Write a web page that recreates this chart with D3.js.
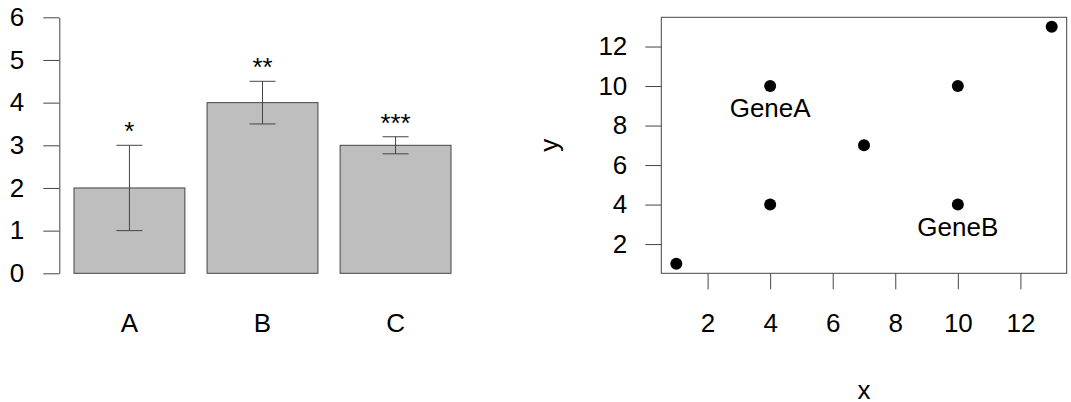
<!DOCTYPE html>
<html>
<head>
<meta charset="utf-8">
<script src="https://cdn.jsdelivr.net/npm/d3@7"></script>
<style>
  body { margin: 0; background: #fff; }
  text { font-family: "Liberation Sans", Arial, sans-serif; fill: #000; }
</style>
</head>
<body>
<div id="chart"></div>
<script>
// bar panel data
var groups = ["A", "B", "C"];
var means = [2, 4, 3];
var lower = [1, 3.5, 2.8];
var upper = [3, 4.5, 3.2];
var stars = ["*", "**", "***"];
var barTicks = [0, 1, 2, 3, 4, 5, 6];

// scatter panel data
var xs = [1, 4, 4, 7, 10, 10, 13];
var ys = [1, 4, 10, 7, 10, 4, 13];
var labelNames = ["GeneA", "GeneB"];
var labelX = [4, 10];
var labelY = [10, 4];
var scatterTicks = [2, 4, 6, 8, 10, 12];

var width = 1071, height = 402;
var fontSize = 26;
var lineCol = "#444";

var svg = d3.select("#chart")
  .append("svg")
  .attr("width", width)
  .attr("height", height)
  .style("font-size", fontSize + "px");

svg.append("rect").attr("width", width).attr("height", height).attr("fill", "#fff");

// ---- left: barplot ----
var plotTop = 17.3, plotBottom = 273.3;

var yBar = d3.scaleLinear().domain([0, 6]).range([plotBottom, plotTop]);
var xBar = d3.scaleBand()
  .domain(groups)
  .range([62.9, 462.1])
  .paddingInner(1 / 6)
  .paddingOuter(1 / 12);

var left = svg.append("g");

left.selectAll("rect.bar")
  .data(groups)
  .enter()
  .append("rect")
  .attr("class", "bar")
  .attr("x", function(d) { return xBar(d); })
  .attr("width", xBar.bandwidth())
  .attr("y", function(d, i) { return yBar(means[i]); })
  .attr("height", function(d, i) { return yBar(0) - yBar(means[i]); })
  .attr("fill", "#bebebe")
  .attr("stroke", lineCol)
  .attr("stroke-width", 1);

// error bars
var capHalf = 13;
var err = left.selectAll("g.err")
  .data(groups)
  .enter()
  .append("g")
  .attr("class", "err")
  .attr("stroke", lineCol)
  .attr("stroke-width", 1);

err.append("line")
  .attr("x1", function(d) { return xBar(d) + xBar.bandwidth() / 2; })
  .attr("x2", function(d) { return xBar(d) + xBar.bandwidth() / 2; })
  .attr("y1", function(d, i) { return yBar(lower[i]); })
  .attr("y2", function(d, i) { return yBar(upper[i]); });
err.append("line")
  .attr("x1", function(d) { return xBar(d) + xBar.bandwidth() / 2 - capHalf; })
  .attr("x2", function(d) { return xBar(d) + xBar.bandwidth() / 2 + capHalf; })
  .attr("y1", function(d, i) { return yBar(upper[i]); })
  .attr("y2", function(d, i) { return yBar(upper[i]); });
err.append("line")
  .attr("x1", function(d) { return xBar(d) + xBar.bandwidth() / 2 - capHalf; })
  .attr("x2", function(d) { return xBar(d) + xBar.bandwidth() / 2 + capHalf; })
  .attr("y1", function(d, i) { return yBar(lower[i]); })
  .attr("y2", function(d, i) { return yBar(lower[i]); });

// significance stars
left.selectAll("text.star")
  .data(groups)
  .enter()
  .append("text")
  .attr("class", "star")
  .attr("x", function(d) { return xBar(d) + xBar.bandwidth() / 2; })
  .attr("y", function(d, i) { return yBar(upper[i]) - 5; })
  .attr("text-anchor", "middle")
  .text(function(d, i) { return stars[i]; });

// y axis
var yAxisL = left.append("g")
  .attr("transform", "translate(59.3,0)")
  .call(d3.axisLeft(yBar).tickValues(barTicks).tickFormat(d3.format("d"))
    .tickSize(16).tickSizeOuter(0).tickPadding(19));
yAxisL.selectAll("path, line").attr("stroke", lineCol);
yAxisL.attr("font-family", null).attr("font-size", null);
yAxisL.selectAll("text").attr("fill", "#000");

// group labels
var xAxisL = left.append("g")
  .attr("transform", "translate(0," + plotBottom + ")")
  .call(d3.axisBottom(xBar).tickSize(0).tickPadding(40.5));
xAxisL.select(".domain").remove();
xAxisL.attr("font-family", null).attr("font-size", null);
xAxisL.selectAll("text").attr("fill", "#000");

// ---- right: scatter ----
var x = d3.scaleLinear().domain([0.52, 13.48]).range([661.3, 1066.7]);
var y = d3.scaleLinear().domain([0.52, 13.48]).range([plotBottom, plotTop]);

var right = svg.append("g");

right.append("rect")
  .attr("x", x.range()[0])
  .attr("y", y.range()[1])
  .attr("width", x.range()[1] - x.range()[0])
  .attr("height", y.range()[0] - y.range()[1])
  .attr("fill", "none")
  .attr("stroke", lineCol)
  .attr("stroke-width", 1);

var xAxisR = right.append("g")
  .attr("transform", "translate(0," + plotBottom + ")")
  .call(d3.axisBottom(x).tickValues(scatterTicks).tickSize(16).tickPadding(24.5));
xAxisR.select(".domain").remove();
xAxisR.selectAll("line").attr("stroke", lineCol);
xAxisR.attr("font-family", null).attr("font-size", null);
xAxisR.selectAll("text").attr("fill", "#000");

var yAxisR = right.append("g")
  .attr("transform", "translate(" + x.range()[0] + ",0)")
  .call(d3.axisLeft(y).tickValues(scatterTicks).tickSize(16).tickPadding(18));
yAxisR.select(".domain").remove();
yAxisR.selectAll("line").attr("stroke", lineCol);
yAxisR.attr("font-family", null).attr("font-size", null);
yAxisR.selectAll("text").attr("fill", "#000");

right.selectAll("circle")
  .data(xs)
  .enter()
  .append("circle")
  .attr("cx", function(d) { return x(d); })
  .attr("cy", function(d, i) { return y(ys[i]); })
  .attr("r", 6)
  .attr("fill", "#000");

right.selectAll("text.gene")
  .data(labelNames)
  .enter()
  .append("text")
  .attr("class", "gene")
  .attr("x", function(d, i) { return x(labelX[i]); })
  .attr("y", function(d, i) { return y(labelY[i]) + 31; })
  .attr("text-anchor", "middle")
  .text(function(d) { return d; });

// axis titles
right.append("text")
  .attr("x", (x.range()[0] + x.range()[1]) / 2)
  .attr("y", 398.5)
  .attr("text-anchor", "middle")
  .text("x");

right.append("text")
  .attr("transform", "translate(557.5," + (plotTop + plotBottom) / 2 + ") rotate(-90)")
  .attr("text-anchor", "middle")
  .text("y");
</script>
</body>
</html>
